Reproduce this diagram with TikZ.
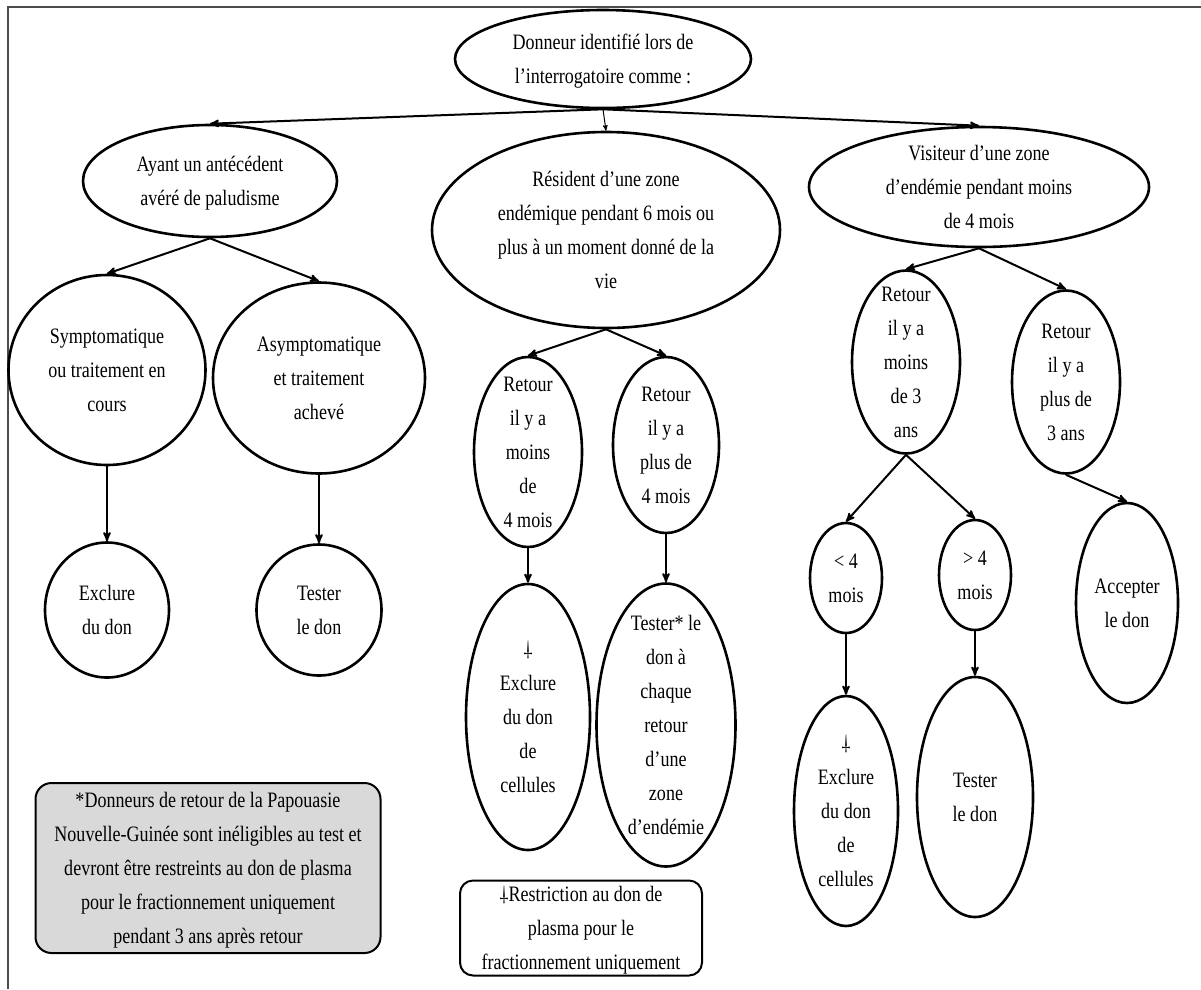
\documentclass[tikz,border=0pt]{standalone}
\usepackage{fontspec}
\setmainfont{Liberation Serif}[FakeStretch=0.82]
\usepackage{tikz}
\usetikzlibrary{arrows}
\usetikzlibrary{shapes.geometric}

% texte centre sans hauteur : la taille vient de minimum width/height
\newcommand{\txt}[1]{\smash{\raisebox{-6pt}{\begin{tabular}{@{}c@{}}#1\end{tabular}}}}
% croix renversee (renvoi)
\newcommand{\croix}{\rotatebox[origin=c]{180}{\dag}}

\begin{document}
\begin{tikzpicture}
[x=1pt,y=-1pt,>=stealth',
 every node/.style={font=\fontsize{22}{34}\selectfont,inner sep=0pt},
 bulle/.style={ellipse,draw,line width=2.6pt},
 cadre/.style={rectangle,rounded corners=13pt,draw,line width=2pt},
 fleche/.style={->,line width=2pt}]

\useasboundingbox (0,0) rectangle (1201,989);
\draw[gray!60!black,line width=1.5pt] (8,989) -- (8,7) -- (1201,7);

% niveau 0 et 1
\node[bulle,minimum width=296pt,minimum height=98pt] (root) at (603,59)
  {\txt{Donneur identifié lors de\\l’interrogatoire comme :}};
\node[bulle,minimum width=254pt,minimum height=112pt] (ayant) at (210,181)
  {\txt{Ayant un antécédent\\avéré de paludisme}};
\node[bulle,minimum width=348pt,minimum height=196pt] (resident) at (606,230)
  {\txt{Résident d’une zone\\endémique pendant 6 mois ou\\plus à un moment donné de la\\vie}};
\node[bulle,minimum width=340pt,minimum height=120pt] (visiteur) at (979,187)
  {\txt{Visiteur d’une zone\\d’endémie pendant moins\\de 4 mois}};

% branche gauche
\node[bulle,minimum width=197pt,minimum height=190pt] (sympto) at (107,370)
  {\txt{Symptomatique\\ou traitement en\\cours}};
\node[bulle,minimum width=212pt,minimum height=191pt] (asympto) at (319,378)
  {\txt{Asymptomatique\\et traitement\\achevé}};
\node[bulle,minimum width=124pt,minimum height=135pt] (exclA) at (107,610)
  {\txt{Exclure\\du don}};
\node[bulle,minimum width=125pt,minimum height=131pt] (testA) at (319,610)
  {\txt{Tester\\le don}};

% branche du milieu
\node[bulle,minimum width=108pt,minimum height=190pt] (moins4) at (528,452)
  {\txt{Retour\\il y a\\moins\\de\\4 mois}};
\node[bulle,minimum width=106pt,minimum height=176pt] (plus4) at (666,445)
  {\txt{Retour\\il y a\\plus de\\4 mois}};
\node[bulle,minimum width=124pt,minimum height=266pt] (exclB) at (528,717)
  {\txt{\croix\\Exclure\\du don\\de\\cellules}};
\node[bulle,minimum width=139pt,minimum height=283pt] (testB) at (666,725)
  {\txt{Tester* le\\don à\\chaque\\retour\\d’une\\zone\\d’endémie}};

% branche droite
\node[bulle,minimum width=108pt,minimum height=183pt] (moins3) at (906,362)
  {\txt{Retour\\il y a\\moins\\de 3\\ans}};
\node[bulle,minimum width=108pt,minimum height=183pt] (plus3) at (1066,382)
  {\txt{Retour\\il y a\\plus de\\3 ans}};
\node[bulle,minimum width=72pt,minimum height=110pt] (inf4) at (846,578)
  {\txt{< 4\\mois}};
\node[bulle,minimum width=72pt,minimum height=110pt] (sup4) at (975,575)
  {\txt{> 4\\mois}};
\node[bulle,minimum width=104pt,minimum height=230pt] (exclC) at (846,811)
  {\txt{\croix\\Exclure\\du don\\de\\cellules}};
\node[bulle,minimum width=116pt,minimum height=240pt] (testC) at (975,797)
  {\txt{Tester\\le don}};
\node[bulle,minimum width=102pt,minimum height=200pt] (accept) at (1127,603)
  {\txt{Accepter\\le don}};

% encadres du bas
\node[cadre,fill=black!15,rounded corners=16pt,minimum width=345pt,minimum height=170pt] (note) at (208,868)
  {\txt{*Donneurs de retour de la Papouasie\\Nouvelle-Guinée sont inéligibles au test et\\devront être restreints au don de plasma\\pour le fractionnement uniquement\\pendant 3 ans après retour}};
\node[cadre,minimum width=242pt,minimum height=95pt] (restr) at (581,928)
  {\txt{\croix Restriction au don de\\plasma pour le\\fractionnement uniquement}};

% fleches
\draw[->,line width=1pt] (root.south) -- (resident.north);
\foreach \from/\to in {root/ayant,root/visiteur,ayant/sympto,ayant/asympto,
  sympto/exclA,asympto/testA,resident/moins4,resident/plus4,moins4/exclB,
  plus4/testB,visiteur/moins3,visiteur/plus3,moins3/inf4,moins3/sup4,
  inf4/exclC,sup4/testC,plus3/accept}
\draw[fleche] (\from.south) -- (\to.north);

\end{tikzpicture}
\end{document}
